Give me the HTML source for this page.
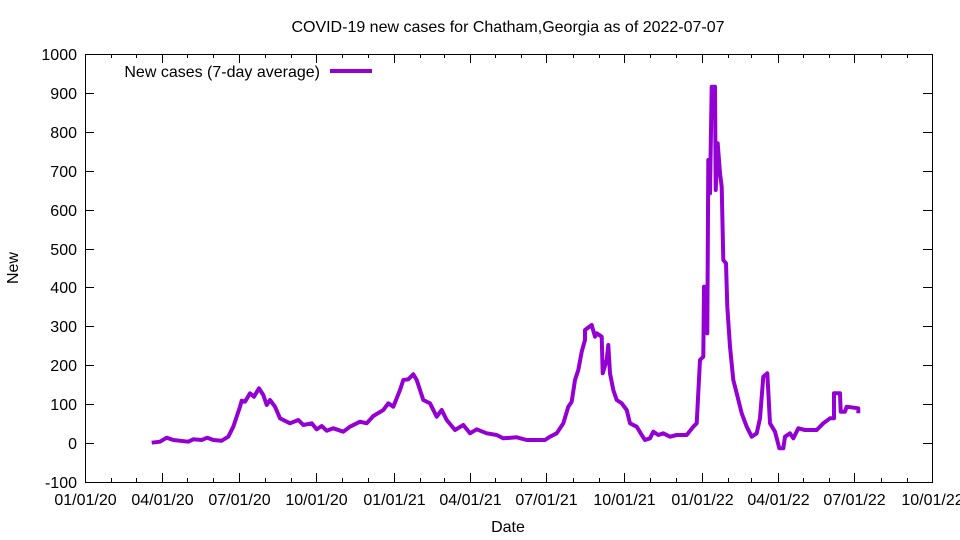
<!DOCTYPE html>
<html><head><meta charset="utf-8"><style>
body{margin:0;background:#fff}
svg{display:block}
text{font-family:"Liberation Sans",sans-serif;font-size:16px;fill:#000}
</style></head><body>
<svg id="s" width="960" height="540" viewBox="0 0 960 540" xmlns="http://www.w3.org/2000/svg">
<rect width="960" height="540" fill="#fff"/>
<text x="508" y="32" text-anchor="middle">COVID-19 new cases for Chatham,Georgia as of 2022-07-07</text>
<g id="ax" stroke="#000" stroke-width="1" fill="none"></g>
<g id="lb"></g>
<rect x="85.5" y="54.5" width="847" height="428" fill="none" stroke="#000"/>
<text x="18" y="268" text-anchor="middle" transform="rotate(-90 18 268)">New</text>
<text x="508" y="532" text-anchor="middle">Date</text>
<text x="320" y="77" text-anchor="end">New cases (7-day average)</text>
<line x1="330" y1="71" x2="372" y2="71" stroke="#9400d3" stroke-width="4"/>
<polyline fill="none" stroke="#9400d3" stroke-width="4" stroke-linejoin="round" points="151.7,442.7 160,441.7 166.7,437.7 173.3,440 188.3,441.7 193.3,439.3 201.7,440 207.3,437.7 213.3,440 221.7,440.7 228.3,436.7 233.3,426.7 240,406.7 241.7,400.7 245,401.7 250,393.3 254,396.7 259,388.3 263.3,395 266.7,405 270,400 275,406.7 280,418.3 290,423.3 298.3,420 303.3,425 311.7,423.3 316.7,429.3 321.7,426 326.7,430.7 333.3,428.3 343.3,431.7 350,426.7 360,421.7 366.7,423.3 373.3,416 383.3,410 388.3,403.3 393.3,406.7 400,390 403.3,380 408.3,379.3 413.3,374.3 416.7,380 423.3,400 430,403.3 436.7,416.7 441.7,410 446.7,420 455,430 463.3,425 470,433.3 476.7,429.3 486.7,433.3 496.7,435 503.3,438.3 516.7,437.3 526.7,440 545,440 550,436.7 556.7,433.3 563.3,423.3 568.3,406.7 571.7,401.7 575,380 578.3,370 581.7,351.7 585,340 585,330 591.7,325 595,336.7 596.7,333.3 601.7,336.7 602.7,373.3 606.7,360 608.3,345 610,373.3 613.3,390 616.7,400 621.7,403.3 626.7,410 630,423.3 636.7,426.7 641.7,435 645,440 650,438.3 653.3,431.7 658.3,435 663.3,433.3 670,436.7 676.7,435 686.7,435 693.3,426.7 696.7,423.3 700,360 703.3,356.7 704,286.7 706.7,286.7 707.3,333.3 708.3,160 710,193.3 711.7,86.7 715,86.7 715.7,190 717.7,143.3 720,173.3 721.7,186.7 723.3,260 726,263.3 727.3,306.7 730,346.7 733.3,380 736.7,393.3 741.7,413.3 746.7,426.7 751.7,436.7 756.7,433.3 760,418.3 763.3,376.7 767.3,373.3 770,423.3 775,431.7 779.3,448.3 783.3,448.3 785,436.7 790,433.3 793.3,438.3 798.3,428.3 805,430 816.7,430 823.3,423.3 830,418.3 834,418.3 834,393.3 840,393.3 840.7,411.7 845,411.7 846.7,406.7 858.3,408.3 858.3,413.3"/>
</svg>
<script>
var ax=document.getElementById('ax'),lb=document.getElementById('lb'),NS='http://www.w3.org/2000/svg';
function ln(a,b,c,d){var e=document.createElementNS(NS,'line');e.setAttribute('x1',a);e.setAttribute('y1',b);e.setAttribute('x2',c);e.setAttribute('y2',d);ax.appendChild(e);}
function tx(x,y,s,anc){var e=document.createElementNS(NS,'text');e.setAttribute('x',x);e.setAttribute('y',y);e.setAttribute('text-anchor',anc);e.textContent=s;lb.appendChild(e);}
for(var v=-100;v<=1000;v+=100){var y=443.1-v*0.3891;y=Math.round(y)+0.5;ln(85,y,94,y);ln(932,y,923,y);tx(77,y+5.5,''+v,'end');}
var t0=Date.UTC(2020,0,1),ppd=847/1004;
for(var m=0;m<=33;m++){var d=(Date.UTC(2020,m,1)-t0)/864e5;var x=Math.round(85+d*ppd)+0.5;var maj=(m%3==0);var L=maj?9:4;ln(x,482,x,482-L);ln(x,54,x,54+L);
if(maj){var mo=(m%12)+1,yr=20+Math.floor(m/12);tx(x,505,('0'+mo).slice(-2)+'/01/'+yr,'middle');}}
</script>
</body></html>
